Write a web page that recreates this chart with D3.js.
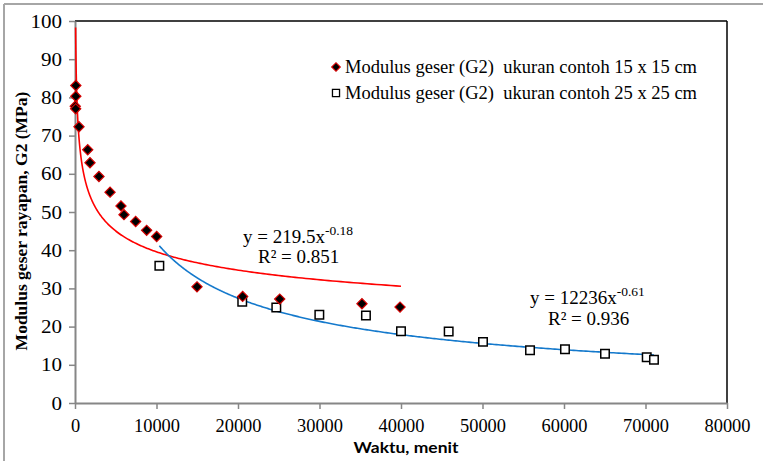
<!DOCTYPE html>
<html><head><meta charset="utf-8">
<script src="https://cdn.jsdelivr.net/npm/d3@7"></script>
<style>body{margin:0;background:#fff}svg{display:block}</style>
</head><body><svg id="c" width="763" height="461"></svg>
<script>
// ---- data ----
const xTicks = [0,10000,20000,30000,40000,50000,60000,70000,80000];
const yTicks = [0,10,20,30,40,50,60,70,80,90,100];
const s1Name = "Modulus geser (G2)  ukuran contoh 15 x 15 cm";
const s1X = [100,100,30,80,490,1560,1840,2940,4300,5640,6010,7440,8790,10020,14970,20570,25120,35210,39880];
const s1Y = [83.1,80.3,77.7,77.0,72.3,66.3,62.9,59.3,55.2,51.6,49.3,47.5,45.2,43.6,30.4,27.9,27.2,26.0,25.1];
const s2Name = "Modulus geser (G2)  ukuran contoh 25 x 25 cm";
const s2X = [10350,20520,24700,29980,35700,40000,45850,50060,55830,60120,65030,70150,71040];
const s2Y = [35.9,26.5,25.0,23.1,22.9,18.8,18.7,16.0,13.8,14.1,12.9,12.0,11.3];
// trendlines y = a*x^b
const trendA = [219.5, 12236];
const trendB = [-0.186, -0.616];
const trendFrom = [75, 10350];
const trendTo = [40000, 71040];
const trendColors = ["#ff0000", "#1479cc"];
const eqMain = ["y = 219.5x", "y = 12236x"];
const eqExp = ["-0.18", "-0.61"];
const eqR2 = ["R\u00b2 = 0.851", "R\u00b2 = 0.936"];

const svg = d3.select("#c");
const serif = "'Liberation Serif','Times New Roman',serif";
const x = d3.scaleLinear().domain([0,80000]).range([75,727]);
const y = d3.scaleLinear().domain([0,100]).range([403,21]);

// outer frame
svg.append("line").attr("x1",4).attr("x2",763).attr("y1",4).attr("y2",4).attr("stroke","#a6a6a6").attr("stroke-width",2);
svg.append("line").attr("x1",4).attr("x2",4).attr("y1",4).attr("y2",461).attr("stroke","#a6a6a6").attr("stroke-width",2);

// plot border top/right
svg.append("line").attr("x1",75).attr("x2",727).attr("y1",21).attr("y2",21).attr("stroke","#000").attr("stroke-width",1.5);
svg.append("line").attr("x1",727).attr("x2",727).attr("y1",21).attr("y2",403).attr("stroke","#000").attr("stroke-width",1.5);

// axes
const ax = svg.append("g").attr("transform","translate(0,403)")
  .call(d3.axisBottom(x).tickValues(xTicks).tickFormat(d3.format("d")).tickSize(6).tickPadding(10).tickSizeOuter(0));
const ay = svg.append("g").attr("transform","translate(75,0)")
  .call(d3.axisLeft(y).tickValues(yTicks).tickFormat(d3.format("d")).tickSize(6).tickPadding(7).tickSizeOuter(0));
[ax,ay].forEach(g=>{
  g.select(".domain").attr("stroke","#868686").attr("stroke-width",2);
  g.selectAll(".tick line").attr("stroke","#868686").attr("stroke-width",1.5);
  g.selectAll(".tick text").attr("font-family",serif).attr("fill","#000");
});
ax.selectAll(".tick text").attr("font-size",19)
  .attr("textLength",d=>String(d).length*9.2).attr("lengthAdjust","spacingAndGlyphs");
ay.selectAll(".tick text").attr("font-size",19)
  .attr("textLength",d=>String(d).length*10.5).attr("lengthAdjust","spacingAndGlyphs");

// axis titles
svg.append("text").attr("x",406).attr("y",453).attr("text-anchor","middle")
  .attr("font-family","Lato, 'Open Sans', sans-serif").attr("font-weight","bold").attr("font-size",16)
  .attr("textLength",105).attr("lengthAdjust","spacingAndGlyphs").text("Waktu, menit");
svg.append("text").attr("transform","translate(27,221) rotate(-90)").attr("text-anchor","middle")
  .attr("font-family",serif).attr("font-weight","bold").attr("font-size",17.5).text("Modulus geser rayapan, G2 (MPa)");

// trendlines
trendA.forEach((a,i)=>{
  const lx = d3.range(0,401).map(k=>Math.exp(Math.log(trendFrom[i]) + (Math.log(trendTo[i])-Math.log(trendFrom[i]))*k/400));
  const line = d3.line().x(v=>x(v)).y(v=>y(a*Math.pow(v,trendB[i])));
  svg.append("path").attr("d",line(lx)).attr("fill","none").attr("stroke",trendColors[i]).attr("stroke-width",1.6);
});

// markers
const diamond = d3.symbol(d3.symbolSquare, 52);
const square = d3.symbol(d3.symbolSquare, 72);
svg.append("g").selectAll("path").data(s2X).join("path")
  .attr("d",square).attr("transform",(d,i)=>`translate(${x(d)},${y(s2Y[i])})`)
  .attr("fill","#fff").attr("stroke","#000").attr("stroke-width",1.5);
svg.append("g").selectAll("path").data(s1X).join("path")
  .attr("d",diamond).attr("transform",(d,i)=>`translate(${x(d)},${y(s1Y[i])}) rotate(45)`)
  .attr("fill","#000").attr("stroke","#d40000").attr("stroke-width",1.2);

// equations
const eqPos = [[243,243,258,263],[530,304,548,325]];
eqMain.forEach((t,i)=>{
  const e = svg.append("text").attr("x",eqPos[i][0]).attr("y",eqPos[i][1]).attr("font-family",serif).attr("font-size",19).attr("fill","#000");
  e.append("tspan").text(t);
  e.append("tspan").attr("dy",-8).attr("font-size",13.5).text(eqExp[i]);
  svg.append("text").attr("x",eqPos[i][2]).attr("y",eqPos[i][3]).attr("font-family",serif).attr("font-size",19).attr("fill","#000").text(eqR2[i]);
});

// legend
const lg = svg.append("g");
lg.append("path").attr("d",d3.symbol(d3.symbolSquare,36)).attr("transform","translate(336,67) rotate(45)")
  .attr("fill","#000").attr("stroke","#d40000").attr("stroke-width",1.2);
lg.append("path").attr("d",d3.symbol(d3.symbolSquare,50)).attr("transform","translate(336,93)")
  .attr("fill","#fff").attr("stroke","#000").attr("stroke-width",1.3);
[s1Name,s2Name].forEach((t,i)=>{
  lg.append("text").attr("x",345).attr("y",73+26*i).attr("font-family",serif).attr("font-size",18)
    .style("white-space","pre")
    .attr("textLength",352).attr("lengthAdjust","spacingAndGlyphs").text(t);
});
</script></body></html>
